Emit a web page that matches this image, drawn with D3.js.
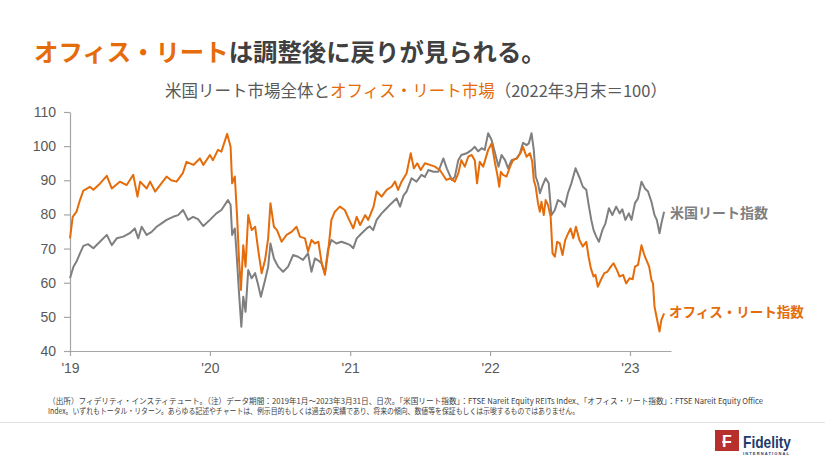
<!DOCTYPE html>
<html><head><meta charset="utf-8">
<script src="https://cdn.jsdelivr.net/npm/d3@7"></script>
<style>
html,body{margin:0;padding:0;background:#fff;}
svg{display:block;font-family:"Noto Sans CJK JP","Noto Sans",sans-serif;}
</style></head><body>
<svg id="chart" width="825" height="464"></svg>
<script>
// ---------- data ----------
const officeDates = [
 "2019-01-01","2019-01-08","2019-01-18","2019-01-27","2019-02-05","2019-02-22","2019-03-03","2019-03-20","2019-04-07","2019-04-20",
 "2019-05-11","2019-05-29","2019-06-15","2019-06-26","2019-07-03","2019-07-20","2019-07-29","2019-08-11","2019-08-24","2019-09-10",
 "2019-09-22","2019-10-06","2019-10-22","2019-11-01","2019-11-19","2019-12-06","2019-12-15",
 "2020-01-01","2020-01-09","2020-01-22","2020-01-31","2020-02-15","2020-02-24","2020-02-28","2020-03-06","2020-03-12","2020-03-17",
 "2020-03-22","2020-03-28","2020-04-03","2020-04-10","2020-04-19","2020-04-28","2020-05-06","2020-05-15","2020-05-24","2020-06-01",
 "2020-06-07","2020-06-16","2020-06-24","2020-07-06","2020-07-19","2020-08-01","2020-08-14","2020-08-23","2020-09-05","2020-09-13",
 "2020-09-22","2020-10-01","2020-10-10","2020-10-18","2020-10-27","2020-11-04","2020-11-13","2020-11-22","2020-12-05","2020-12-18",
 "2020-12-27",
 "2021-01-09","2021-01-18","2021-01-27","2021-02-09","2021-02-17","2021-03-03","2021-03-11","2021-03-24","2021-04-06","2021-04-19",
 "2021-04-28","2021-05-06","2021-05-15","2021-05-28","2021-06-08","2021-06-16","2021-06-25","2021-07-04","2021-07-15","2021-07-28",
 "2021-08-10","2021-08-23","2021-09-09","2021-09-20","2021-10-01","2021-10-10","2021-10-18","2021-10-27","2021-11-05","2021-11-14",
 "2021-11-22","2021-11-28","2021-12-05","2021-12-14","2021-12-27",
 "2022-01-05","2022-01-14","2022-01-20","2022-01-25","2022-01-29","2022-02-04","2022-02-13","2022-02-22","2022-03-02","2022-03-12",
 "2022-03-21","2022-03-28","2022-04-06","2022-04-15","2022-04-21","2022-04-25","2022-04-30","2022-05-06","2022-05-11","2022-05-15",
 "2022-05-21","2022-05-26","2022-06-01","2022-06-08","2022-06-13","2022-06-19","2022-06-25","2022-07-02","2022-07-09","2022-07-16",
 "2022-07-24","2022-07-30","2022-08-06","2022-08-13","2022-08-22","2022-08-31","2022-09-09","2022-09-15","2022-09-21","2022-09-28",
 "2022-10-03","2022-10-09","2022-10-17","2022-10-26","2022-11-03","2022-11-12","2022-11-19","2022-11-28","2022-12-05","2022-12-14",
 "2022-12-22","2022-12-31",
 "2023-01-08","2023-01-14","2023-01-22","2023-01-31","2023-02-06","2023-02-11","2023-02-20","2023-02-26","2023-03-02","2023-03-06",
 "2023-03-12","2023-03-19","2023-03-24","2023-03-31"
];
const officeValues = [
 73.0,79.3,80.8,84.2,87.0,88.1,87.2,89.0,91.3,87.6,
 89.6,88.6,91.6,85.2,89.6,87.6,89.6,86.7,88.6,91.1,
 90.0,89.6,92.0,95.4,94.5,96.4,94.5,
 97.4,95.9,98.9,98.4,103.6,99.8,89.1,91.1,79.3,66.7,
 57.9,71.0,64.7,79.8,75.4,76.4,69.6,62.8,66.7,73.0,
 83.3,76.4,75.4,72.0,74.0,74.9,76.4,73.5,73.0,69.1,
 72.5,71.5,72.0,66.2,62.3,68.6,78.4,80.8,82.3,81.3,
 79.0,
 75.9,79.3,76.9,79.8,78.4,82.3,86.7,85.2,87.2,88.1,
 89.6,87.2,89.6,92.0,97.9,93.5,95.0,93.0,95.0,94.5,
 94.0,93.0,90.1,90.6,89.6,92.0,95.9,94.0,96.9,97.4,
 95.9,89.1,95.4,94.0,98.9,
 100.8,95.0,91.6,88.1,92.5,91.6,91.1,94.0,95.9,96.4,
 97.9,99.8,96.9,97.9,95.4,90.1,88.1,83.3,80.8,83.7,
 79.8,84.2,82.8,79.3,68.6,67.6,72.0,71.5,68.1,72.5,
 74.5,75.9,73.0,76.4,72.5,70.6,72.0,67.6,64.2,61.8,
 62.3,58.8,60.8,62.8,63.2,64.7,65.7,63.7,61.8,62.3,
 59.8,61.3,
 61.0,64.7,65.2,71.0,68.6,67.1,64.7,60.8,59.8,53.0,
 49.6,45.7,49.1,51.0
];
const reitDates = [
 "2019-01-01","2019-01-10","2019-01-18","2019-01-27","2019-02-05","2019-02-17","2019-03-03","2019-03-20","2019-04-07","2019-04-20",
 "2019-05-03","2019-05-20","2019-06-06","2019-06-19","2019-06-28","2019-07-07","2019-07-20","2019-08-02","2019-08-15","2019-08-28",
 "2019-09-10","2019-09-27","2019-10-10","2019-10-23","2019-11-05","2019-11-18","2019-12-01","2019-12-15",
 "2020-01-01","2020-01-18","2020-01-31","2020-02-17","2020-02-24","2020-02-28","2020-03-06","2020-03-10","2020-03-17","2020-03-23",
 "2020-03-28","2020-04-03","2020-04-10","2020-04-19","2020-04-28","2020-05-06","2020-05-13","2020-05-24","2020-06-01","2020-06-07",
 "2020-06-16","2020-06-27","2020-07-10","2020-07-23","2020-08-05","2020-08-18","2020-08-31","2020-09-13","2020-09-22","2020-10-01",
 "2020-10-10","2020-10-18","2020-10-27","2020-11-04","2020-11-13","2020-11-26","2020-12-09","2020-12-22",
 "2021-01-01","2021-01-09","2021-01-18","2021-01-31","2021-02-13","2021-02-21","2021-03-02","2021-03-11","2021-03-24","2021-04-06",
 "2021-04-19","2021-05-02","2021-05-11","2021-05-20","2021-05-28","2021-06-10","2021-06-23","2021-07-06","2021-07-15","2021-07-24",
 "2021-08-06","2021-08-19","2021-09-01","2021-09-10","2021-09-23","2021-10-01","2021-10-10","2021-10-18","2021-11-01","2021-11-14",
 "2021-11-22","2021-12-01","2021-12-10","2021-12-18","2021-12-27",
 "2022-01-05","2022-01-14","2022-01-23","2022-01-31","2022-02-09","2022-02-17","2022-02-26","2022-03-11","2022-03-20","2022-03-28",
 "2022-04-06","2022-04-12","2022-04-19","2022-04-25","2022-04-30","2022-05-06","2022-05-11","2022-05-18","2022-05-26","2022-06-03",
 "2022-06-10","2022-06-19","2022-06-27","2022-07-06","2022-07-15","2022-07-23","2022-08-01","2022-08-12","2022-08-23","2022-08-31",
 "2022-09-09","2022-09-16","2022-09-22","2022-09-28","2022-10-05","2022-10-12","2022-10-21","2022-10-29","2022-11-07","2022-11-16",
 "2022-11-26","2022-12-05","2022-12-12","2022-12-20","2022-12-29",
 "2023-01-05","2023-01-14","2023-01-22","2023-01-31","2023-02-09","2023-02-17","2023-02-26","2023-03-06","2023-03-12","2023-03-19",
 "2023-03-24","2023-03-31"
];
const reitValues = [
 61.3,64.7,66.2,68.6,70.8,71.3,70.1,72.0,74.0,71.0,
 73.0,73.5,74.5,75.9,73.0,76.4,74.0,74.9,76.4,77.4,
 78.4,79.3,79.8,81.3,78.4,79.3,78.6,76.6,
 78.4,80.3,81.3,84.2,82.8,74.0,75.9,69.6,56.9,47.1,
 55.9,51.5,63.7,61.3,62.8,59.3,55.9,60.8,64.7,71.5,
 67.1,64.7,63.2,64.7,68.1,67.6,66.7,68.6,63.2,67.1,
 66.5,65.7,62.8,69.6,72.5,71.5,72.0,71.5,
 71.0,70.1,73.0,74.5,75.9,76.5,75.4,78.4,80.3,81.8,
 83.3,84.7,82.3,85.5,86.7,90.6,89.6,91.6,91.0,93.0,
 92.5,92.5,96.4,93.5,90.1,91.0,95.9,97.4,97.9,98.9,
 99.8,98.5,99.4,98.9,103.8,
 101.8,97.9,94.0,97.4,95.9,93.5,95.9,96.4,97.9,101.0,
 100.3,100.8,103.8,98.9,91.1,89.1,86.2,88.5,90.6,89.1,
 79.8,81.3,84.2,83.7,82.3,86.2,89.1,93.5,90.6,88.1,
 87.2,82.3,78.4,75.4,73.5,72.0,75.4,77.4,81.8,79.8,
 82.3,80.3,81.5,78.4,80.3,
 78.4,83.3,84.7,89.6,87.6,86.7,83.7,79.8,78.4,74.5,
 77.4,80.8
];
const yTicks = [40, 50, 60, 70, 80, 90, 100, 110];
const xTickDates = ["2019-01-01","2020-01-01","2021-01-01","2022-01-01","2023-01-01"];
const xTickLabels = ["'19","'20","'21","'22","'23"];
const seriesNames = ["米国リート指数", "オフィス・リート指数"];
const titleAccent = "オフィス・リート";
const titleRest = "は調整後に戻りが見られる。";
const subtitleA = "米国リート市場全体と";
const subtitleB = "オフィス・リート市場";
const subtitleC = "（2022年3月末＝100）";
const footnoteLines = [
 "（出所）フィデリティ・インスティテュート。（注）データ期間：2019年1月～2023年3月31日、日次。「米国リート指数」：FTSE Nareit Equity REITs Index、「オフィス・リート指数」：FTSE Nareit Equity Office",
 "Index。いずれもトータル・リターン。あらゆる記述やチャートは、例示目的もしくは過去の実績であり、将来の傾向、数値等を保証もしくは示唆するものではありません。"
];

// ---------- drawing ----------
const ORANGE = "#E46C0A", GREY = "#7F7F7F", TEXT = "#595959", DARK = "#404040", AXIS = "#A6A6A6";
const parse = d3.timeParse("%Y-%m-%d");
const svg = d3.select("#chart");

const x = d3.scaleTime().domain([parse("2019-01-01"), parse("2023-04-18")]).range([70, 671]);
const y = d3.scaleLinear().domain([40, 110]).range([351, 112]);

// title
const title = svg.append("text").attr("x", 34).attr("y", 61)
  .attr("font-size", 24.4).attr("font-weight", 700);
title.append("tspan").attr("fill", ORANGE).text(titleAccent);
title.append("tspan").attr("fill", DARK).text(titleRest);

// subtitle
const sub = svg.append("text").attr("x", 165).attr("y", 97).attr("font-size", 16.5);
sub.append("tspan").attr("fill", TEXT).text(subtitleA);
sub.append("tspan").attr("fill", ORANGE).text(subtitleB);
sub.append("tspan").attr("fill", TEXT).text(subtitleC);

// axes
const yAxis = svg.append("g").attr("transform", "translate(70,0)")
  .call(d3.axisLeft(y).tickValues(yTicks).tickSize(6).tickSizeOuter(0).tickPadding(8));
const xAxis = svg.append("g").attr("transform", "translate(0,351)")
  .call(d3.axisBottom(x).tickValues(xTickDates.map(parse)).tickFormat((d, i) => xTickLabels[i])
    .tickSize(5).tickSizeOuter(0).tickPadding(7));
[yAxis, xAxis].forEach(g => {
  g.selectAll("path,line").attr("stroke", AXIS).attr("stroke-width", 1.2);
  g.selectAll("text").attr("fill", TEXT).attr("font-size", 14)
    .attr("font-family", "'Liberation Sans', Arial, sans-serif");
});

// lines
const line = d3.line().x(d => x(d[0])).y(d => y(d[1]));
const reitData = reitDates.map((d, i) => [parse(d), reitValues[i]]);
const officeData = officeDates.map((d, i) => [parse(d), officeValues[i]]);
svg.append("path").datum(reitData).attr("d", line).attr("fill", "none")
  .attr("stroke", GREY).attr("stroke-width", 2).attr("stroke-linejoin", "round");
svg.append("path").datum(officeData).attr("d", line).attr("fill", "none")
  .attr("stroke", ORANGE).attr("stroke-width", 2).attr("stroke-linejoin", "round");

// end labels
const lastR = reitData[reitData.length - 1], lastO = officeData[officeData.length - 1];
svg.append("text").attr("x", x(lastR[0]) + 6).attr("y", y(lastR[1]) + 1).attr("dy", "0.35em")
  .attr("font-size", 14).attr("font-weight", 700).attr("fill", GREY).text(seriesNames[0]);
svg.append("text").attr("x", x(lastO[0]) + 5).attr("y", y(lastO[1]) - 1).attr("dy", "0.35em")
  .attr("font-size", 13.5).attr("font-weight", 700).attr("fill", ORANGE).text(seriesNames[1]);

// footnotes (one text, two lines)
const foot = svg.append("text").attr("font-size", 8).attr("fill", DARK);
foot.append("tspan").attr("x", 48).attr("y", 404)
  .attr("textLength", 715).attr("lengthAdjust", "spacingAndGlyphs").text(footnoteLines[0]);
foot.append("tspan").attr("x", 48).attr("y", 414)
  .attr("textLength", 531).attr("lengthAdjust", "spacingAndGlyphs").text(footnoteLines[1]);

// separator
svg.append("line").attr("x1", 0).attr("x2", 825).attr("y1", 422.5).attr("y2", 422.5)
  .attr("stroke", "#E3E3E3").attr("stroke-width", 1);

// logo
const logo = svg.append("g");
logo.append("rect").attr("x", 715).attr("y", 430).attr("width", 24).attr("height", 21).attr("fill", "#B8302B");
logo.append("text").attr("x", 727).attr("y", 446.5).attr("text-anchor", "middle")
  .attr("font-family", "'Liberation Sans', Arial, sans-serif").attr("font-weight", 700)
  .attr("font-size", 16).attr("fill", "#fff").text("F");
logo.append("line").attr("x1", 722).attr("x2", 731).attr("y1", 442).attr("y2", 442)
  .attr("stroke", "#fff").attr("stroke-width", 1.5);
logo.append("text").attr("x", 743).attr("y", 447.5)
  .attr("font-family", "'Liberation Sans', Arial, sans-serif").attr("font-weight", 700)
  .attr("font-size", 17).attr("fill", "#1F3B6E").attr("textLength", 48)
  .attr("lengthAdjust", "spacingAndGlyphs").text("Fidelity");
logo.append("text").attr("x", 743).attr("y", 455)
  .attr("font-family", "'Liberation Sans', Arial, sans-serif").attr("font-weight", 700)
  .attr("font-size", 4).attr("fill", "#1F3B6E").attr("textLength", 46)
  .attr("lengthAdjust", "spacing").text("INTERNATIONAL");
</script>
</body></html>
